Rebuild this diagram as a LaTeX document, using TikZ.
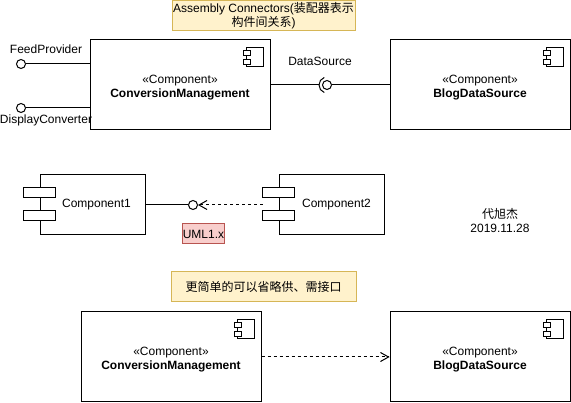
\documentclass[tikz,border=0pt]{standalone}
\usepackage{fontspec}
\setmainfont{Liberation Sans}
\newfontfamily\cjk{Noto Sans CJK SC}
\usetikzlibrary{arrows.meta}

\definecolor{notefill}{HTML}{FFF2CC}
\definecolor{noteline}{HTML}{D6B656}
\definecolor{redfill}{HTML}{F8CECC}
\definecolor{redline}{HTML}{B85450}

\tikzset{
  compbox/.style={draw,minimum width=180pt,minimum height=90pt,inner sep=0pt,
    label={[align=center,yshift=-2.5pt]center:«Component»\\\textbf{#1}}},
  smallbox/.style={draw,minimum width=105pt,minimum height=60pt,inner sep=0pt},
  ball/.style={draw,circle,minimum size=9pt,inner sep=0pt,fill=white},
  notebox/.style={draw=noteline,fill=notefill,inner sep=0pt,align=center},
  dep/.style={dash pattern=on 3pt off 3pt,-{Straight Barb[length=8pt,width=9pt]}},
  compicon/.pic={
    \draw[fill=white] (-24,8) rectangle (-7,27);
    \draw[fill=white] (-27,11) rectangle (-20,16);
    \draw[fill=white] (-27,20) rectangle (-20,25);
  },
  comptabs/.pic={
    \draw[fill=white] (-16,-17) rectangle (16,-7);
    \draw[fill=white] (-16,6) rectangle (16,16);
  }
}

\begin{document}
\begin{tikzpicture}[x=1pt,y=-1pt,line width=1pt,font=\fontsize{12}{14}\selectfont]
\useasboundingbox (0,0) rectangle (571,403);

% assembly connectors
\node[notebox,minimum width=183pt,minimum height=30pt,font=\fontsize{12}{12}\selectfont] (note1) at (263.5,15.5)
  {Assembly Connectors({\cjk 装配器表示}\\{\cjk 构件间关系})};

\node[compbox=ConversionManagement] (cm) at (180,85) {};
\pic at (cm.north east) {compicon};
\node[compbox=BlogDataSource] (bd) at (480,85) {};
\pic at (bd.north east) {compicon};

\node[ball] (fp) at (21,64) {};
\node (fplbl) at (46,49) {FeedProvider};
\draw (fp) -- (fp -| cm.west);
\node[ball] (dc) at (21,108) {};
\node (dclbl) at (46,120.5) {DisplayConverter};
\draw (dc) -- (dc -| cm.west);

\node[ball] (ds) at (327,85) {};
\coordinate (sock) at (319,85);
\draw (cm.east) -- (sock);
\draw (sock) arc[start angle=180,end angle=110,radius=8];
\draw (sock) arc[start angle=180,end angle=250,radius=8];
\draw (ds) -- (bd.west);
\node (dslbl) at (320,61) {DataSource};

% UML 1.x notation
\node[smallbox,label={[xshift=4pt]center:Component1}] (c1) at (92.5,205) {};
\pic at (c1.west) {comptabs};
\node[smallbox,label={[xshift=5pt]center:Component2}] (c2) at (331.5,205) {};
\pic at (c2.west) {comptabs};
\node[ball] (u1) at (193,205) {};
\draw (c1.east) -- (u1);
\draw[dep] ([xshift=-16pt]c2.west) -- (u1.east);
\node[draw=redline,fill=redfill,minimum width=41pt,minimum height=20pt,inner sep=0pt] (uml) at (203.5,234) {UML1.x};

\node[align=center] (who) at (500,221) {{\cjk 代旭杰}\\2019.11.28};

% simplified
\node[notebox,minimum width=185pt,minimum height=30pt] (note2) at (263.5,287) {\cjk 更简单的可以省略供、需接口};
\node[compbox=ConversionManagement] (cm2) at (171,357) {};
\pic at (cm2.north east) {compicon};
\node[compbox=BlogDataSource] (bd2) at (480,357) {};
\pic at (bd2.north east) {compicon};
\draw[dep] (cm2.east) -- (bd2.west);
\end{tikzpicture}
\end{document}
